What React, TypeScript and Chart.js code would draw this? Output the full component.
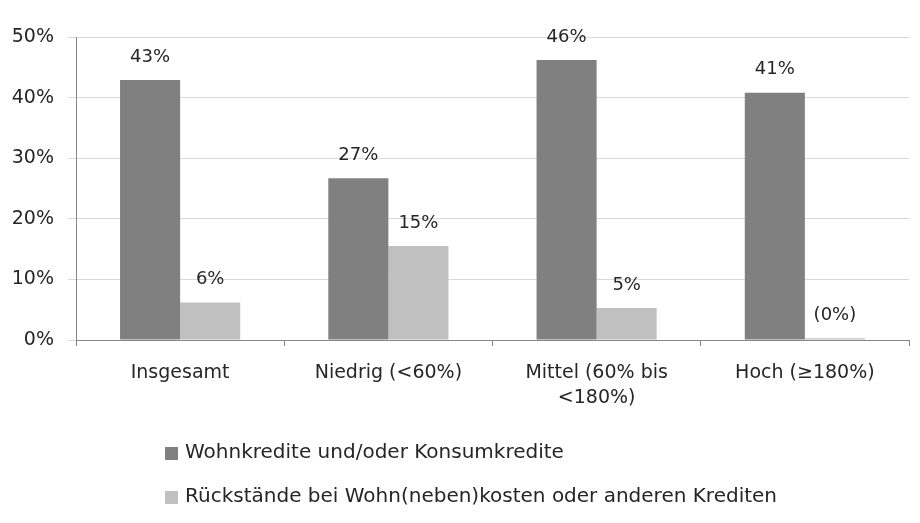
import React, { useEffect, useRef } from "react";
import { Chart, registerables } from "chart.js";

Chart.register(...registerables);

const categories: (string | string[])[] = [
  "Insgesamt",
  "Niedrig (<60%)",
  ["Mittel (60% bis", "<180%)"],
  "Hoch (≥180%)",
];
const seriesNames = [
  "Wohnkredite und/oder Konsumkredite",
  "Rückstände bei Wohn(neben)kosten oder anderen Krediten",
];
const wohnkredite = [42.9, 26.7, 46.2, 40.8];
const rueckstaende = [6.2, 15.5, 5.3, 0.3];
const wohnLabels = ["43%", "27%", "46%", "41%"];
const rueckLabels = ["6%", "15%", "5%", "(0%)"];
const yTicks = [0, 10, 20, 30, 40, 50];

const FONT = "'DejaVu Sans', sans-serif";
const TEXT = "#262626";

const valueLabelPlugin = {
  id: "valueLabels",
  afterDatasetsDraw(chart: any) {
    const ctx = chart.ctx;
    const labelSets = [wohnLabels, rueckLabels];
    ctx.save();
    ctx.font = `18px ${FONT}`;
    ctx.fillStyle = TEXT;
    ctx.textAlign = "center";
    ctx.textBaseline = "middle";
    chart.data.datasets.forEach((_ds: any, di: number) => {
      const meta = chart.getDatasetMeta(di);
      meta.data.forEach((bar: any, i: number) => {
        ctx.fillText(labelSets[di][i], bar.x, bar.y - 23);
      });
    });
    ctx.restore();
  },
};

const legendPlugin = {
  id: "customLegend",
  afterDraw(chart: any) {
    const ctx = chart.ctx;
    ctx.save();
    ctx.font = `20px ${FONT}`;
    ctx.textBaseline = "middle";
    ctx.textAlign = "left";
    const rows = [453, 497];
    chart.data.datasets.forEach((ds: any, i: number) => {
      const y = rows[i];
      ctx.fillStyle = ds.backgroundColor;
      ctx.fillRect(165, y - 6, 13, 13);
      ctx.fillStyle = TEXT;
      ctx.fillText(ds.label, 185, y);
    });
    ctx.restore();
  },
};

export default function App() {
  const ref = useRef<HTMLCanvasElement>(null);
  useEffect(() => {
    if (!ref.current) return;
    const chart = new Chart(ref.current, {
      type: "bar",
      data: {
        labels: categories,
        datasets: [
          {
            label: seriesNames[0],
            data: wohnkredite,
            backgroundColor: "#808080",
            categoryPercentage: 0.577,
            barPercentage: 1,
          },
          {
            label: seriesNames[1],
            data: rueckstaende,
            backgroundColor: "#c0c0c0",
            categoryPercentage: 0.577,
            barPercentage: 1,
          },
        ],
      },
      options: {
        animation: false,
        responsive: false,
        maintainAspectRatio: false,
        layout: { padding: { top: 37, right: 11, bottom: 0, left: 0 } },
        plugins: {
          legend: { display: false },
          tooltip: { enabled: false },
        },
        scales: {
          x: {
            afterFit: (s: any) => {
              s.height = 183;
            },
            grid: {
              offset: true,
              drawOnChartArea: false,
              drawTicks: true,
              tickLength: 6,
              color: "#868686",
            },
            border: { color: "#868686", width: 1 },
            ticks: {
              color: TEXT,
              font: { family: FONT, size: 19, lineHeight: 1.3 },
              padding: 15,
              maxRotation: 0,
              autoSkip: false,
            },
          },
          y: {
            min: 0,
            max: 50,
            afterFit: (s: any) => {
              s.width = 76;
            },
            afterBuildTicks: (s: any) => {
              s.ticks = yTicks.map((v) => ({ value: v }));
            },
            grid: {
              color: "#d9d9d9",
              tickLength: 8,
              drawTicks: true,
            },
            border: { color: "#868686", width: 1 },
            ticks: {
              color: TEXT,
              font: { family: FONT, size: 19 },
              padding: 14,
              callback: (v: any) => `${v}%`,
            },
          },
        },
      },
      plugins: [valueLabelPlugin, legendPlugin],
    });
    return () => chart.destroy();
  }, []);
  return (
    <div style={{ position: "fixed", left: 0, top: 0, width: 920, height: 523, background: "#fff" }}>
      <canvas ref={ref} width={920} height={523} style={{ display: "block" }} />
    </div>
  );
}
